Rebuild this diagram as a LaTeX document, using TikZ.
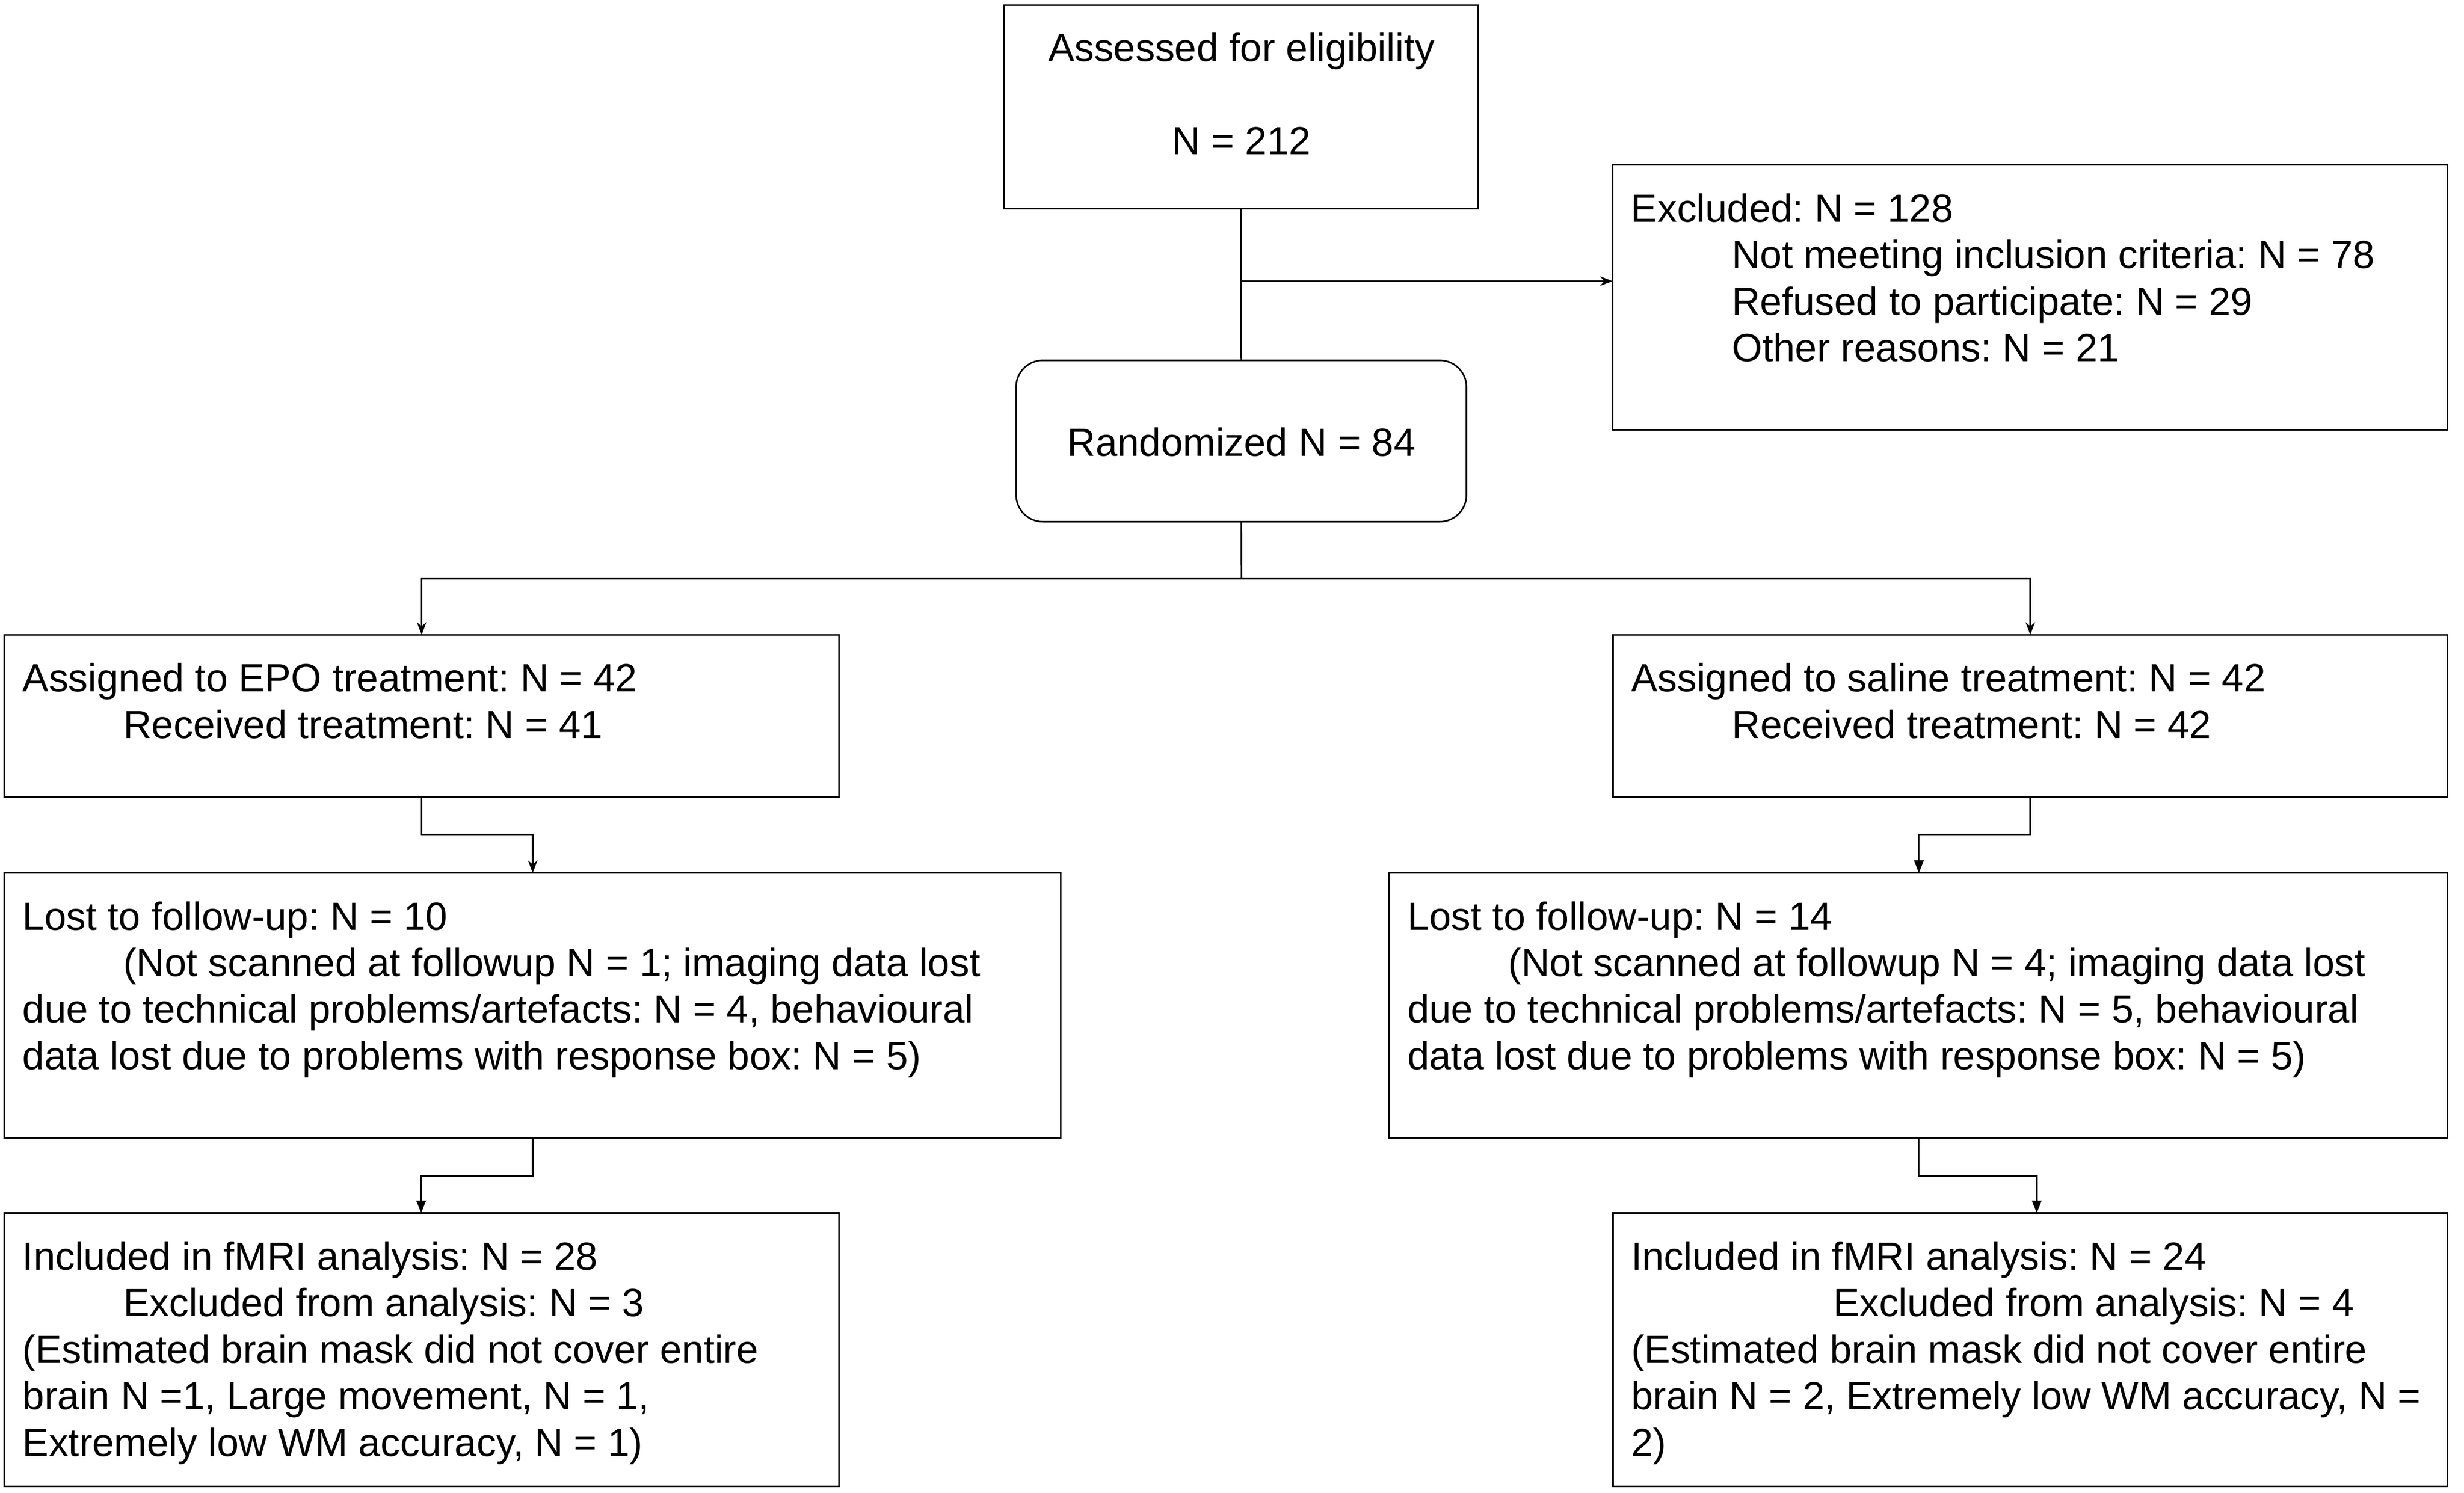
\documentclass[tikz,border=0pt]{standalone}
\usepackage{fontspec}
\setmainfont{Liberation Sans}
\usetikzlibrary{arrows.meta,calc}
\frenchspacing
\begin{document}
\begin{tikzpicture}[x=1pt,y=-1pt,
  box/.style={draw=black, line width=1pt, rectangle, inner sep=0pt, outer sep=0pt, anchor=north west},
  rbox/.style={box, rounded corners=17pt},
  txt/.style={inner sep=0pt, outer sep=0pt, font=\fontsize{25}{29.6}\selectfont\frenchspacing, anchor=base west},
  ctxt/.style={txt, anchor=base},
  conn/.style={draw=black, line width=1pt},
  arrS/.style={-{Stealth[length=8pt,width=6pt,inset=2.6pt]}},
  arrT/.style={-{Triangle[length=8pt,width=6pt]}}]

\path[use as bounding box, fill=white] (0,0) rectangle (1568,950);

% boxes
\node[box, minimum width=301.6pt, minimum height=129.4pt] (assess) at (639,3.4) {};
\node[box, minimum width=531.1pt, minimum height=168.7pt] (excl) at (1026.3,105) {};
\node[rbox, minimum width=286.6pt, minimum height=102.7pt] (rand) at (646.6,229.3) {};
\node[box, minimum width=531.2pt, minimum height=103.3pt] (epo) at (2.7,404) {};
\node[box, minimum width=531pt, minimum height=103.2pt] (sal) at (1026.4,404) {};
\node[box, minimum width=672.4pt, minimum height=168.7pt] (lostE) at (2.7,555.6) {};
\node[box, minimum width=673.4pt, minimum height=168.7pt] (lostS) at (884,555.6) {};
\node[box, minimum width=531.2pt, minimum height=173.9pt] (incE) at (2.7,772.1) {};
\node[box, minimum width=531pt, minimum height=173.9pt] (incS) at (1026.4,772.1) {};

% texts
\node[ctxt] (assess-t) at (790,39.2) {\begin{tabular}[t]{@{}c@{}}Assessed for eligibility\\ \\ N = 212\end{tabular}};
\node[ctxt] (rand-t) at (790,290.2) {Randomized N = 84};

\node[txt] (excl-t) at ($(excl.north west)+(11.7,36.2)$) {\begin{tabular}[t]{@{}l@{}}Excluded: N = 128\\
\hspace*{64.1pt}Not meeting inclusion criteria: N = 78\\
\hspace*{64.1pt}Refused to participate: N = 29\\
\hspace*{64.1pt}Other reasons: N = 21\end{tabular}};

\node[txt] (epo-t) at ($(epo.north west)+(11.7,36.2)$) {\begin{tabular}[t]{@{}l@{}}Assigned to EPO treatment: N = 42\\
\hspace*{64.1pt}Received treatment: N = 41\end{tabular}};

\node[txt] (sal-t) at ($(sal.north west)+(11.7,36.2)$) {\begin{tabular}[t]{@{}l@{}}Assigned to saline treatment: N = 42\\
\hspace*{64.1pt}Received treatment: N = 42\end{tabular}};

\node[txt] (lostE-t) at ($(lostE.north west)+(11.7,36.2)$) {\begin{tabular}[t]{@{}l@{}}Lost to follow-up: N = 10\\
\hspace*{64.1pt}(Not scanned at followup N = 1; imaging data lost\\
due to technical problems/artefacts: N = 4, behavioural\\
data lost due to problems with response box: N = 5)\end{tabular}};

\node[txt] (lostS-t) at ($(lostS.north west)+(11.7,36.2)$) {\begin{tabular}[t]{@{}l@{}}Lost to follow-up: N = 14\\
\hspace*{64.1pt}(Not scanned at followup N = 4; imaging data lost\\
due to technical problems/artefacts: N = 5, behavioural\\
data lost due to problems with response box: N = 5)\end{tabular}};

\node[txt] (incE-t) at ($(incE.north west)+(11.7,36.2)$) {\begin{tabular}[t]{@{}l@{}}Included in fMRI analysis: N = 28\\
\hspace*{64.1pt}Excluded from analysis: N = 3\\
(Estimated brain mask did not cover entire\\
brain N =1, Large movement, N = 1,\\
Extremely low WM accuracy, N = 1)\end{tabular}};

\node[txt] (incS-t) at ($(incS.north west)+(11.7,36.2)$) {\begin{tabular}[t]{@{}l@{}}Included in fMRI analysis: N = 24\\
\hspace*{128.5pt}Excluded from analysis: N = 4\\
(Estimated brain mask did not cover entire\\
brain N = 2, Extremely low WM accuracy, N =\\
2)\end{tabular}};

% connectors
\draw[conn] (assess.south) -- (rand.north);
\coordinate (j1) at (790,178.9);
\draw[conn,arrS] (j1) -- (j1 -| excl.west);
\coordinate (rj) at (790,368.2);
\draw[conn] (rand.south) -- (rj);
\draw[conn,arrS] (rj) -| ($(epo.north west)+(265.6,0)$);
\draw[conn,arrS] (rj) -| ($(sal.north west)+(265.6,0)$);
\draw[conn,arrS] ($(epo.south west)+(265.6,0)$) -- ++(0,23.8) -| ($(lostE.north west)+(336.3,0)$);
\draw[conn,arrT] ($(sal.south west)+(265.6,0)$) -- ++(0,23.9) -| ($(lostS.north west)+(337.1,0)$);
\draw[conn,arrT] ($(lostE.south west)+(336.3,0)$) -- ++(0,24.1) -| ($(incE.north west)+(265.3,0)$);
\draw[conn,arrT] ($(lostS.south west)+(337.1,0)$) -- ++(0,24.1) -| ($(incS.north west)+(269.7,0)$);
\end{tikzpicture}
\end{document}
